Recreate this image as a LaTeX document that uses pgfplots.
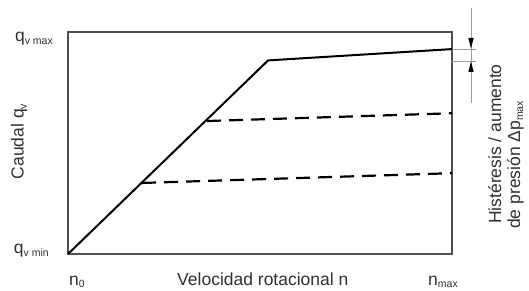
\documentclass[border=0pt]{standalone}
\usepackage{pgfplots}
\pgfplotsset{compat=1.18}
\usepackage{fontspec}
\setmainfont{Liberation Sans}
\definecolor{txt}{HTML}{303030}
\definecolor{boxc}{HTML}{505050}
\definecolor{thinc}{HTML}{9A9A9A}
\newcommand{\lbl}{\fontsize{17.5}{21}\selectfont}
\newcommand{\sub}[2][-3pt]{\raisebox{#1}{\fontsize{10.5}{12}\selectfont #2}}
\begin{document}
\begin{tikzpicture}[x=1pt,y=1pt]
\useasboundingbox (0,0) rectangle (529,291);
\begin{axis}[at={(68pt,37pt)}, anchor=south west, scale only axis,
  width=384pt, height=222pt, xmin=0, xmax=100, ymin=0, ymax=100,
  axis line style={boxc, line width=1.4pt}, ticks=none, clip=false]
\addplot[black, line width=2pt] coordinates {(0,0) (52.1,87.2) (100,92.3)};
\addplot[black, line width=2.2pt, dash pattern=on 14pt off 8pt] coordinates {(36.2,59.9) (100,63.4)};
\addplot[black, line width=2.2pt, dash pattern=on 14pt off 8pt] coordinates {(19.3,32.0) (100,36.4)};
\end{axis}
% annotation
\draw[thinc, line width=0.7pt] (452,242) -- (476,242);
\draw[thinc, line width=0.7pt] (452,230) -- (476,230);
\draw[thinc, line width=0.8pt] (471,283) -- (471,188);
\fill[black] (471,242.5) -- (468.3,253) -- (473.7,253) -- cycle;
\fill[black] (471,229.5) -- (468.3,219) -- (473.7,219) -- cycle;
% labels
\node[anchor=base east, text=txt, inner sep=0pt] at (53,249.5) {\lbl q\sub{v max}};
\node[anchor=base east, text=txt, inner sep=0pt] at (49,37) {\lbl q\sub{v min}};
\node[rotate=90, anchor=base, text=txt, inner sep=0pt] at (23.5,149.5) {\lbl Caudal q\sub{v}};
\node[anchor=base west, text=txt, inner sep=0pt] at (69,5.5) {\lbl n\sub[-2.5pt]{0}};
\node[anchor=base west, text=txt, inner sep=0pt] at (177,5) {\lbl Velocidad rotacional n};
\node[anchor=base west, text=txt, inner sep=0pt] at (428,5.5) {\lbl n\sub[-2.5pt]{max}};
\node[rotate=90, anchor=base west, text=txt, inner sep=0pt] at (501,67) {\lbl Histéresis / aumento};
\node[rotate=90, anchor=base west, text=txt, inner sep=0pt] at (520,62) {\lbl de presión Δp\sub{max}};
\end{tikzpicture}
\end{document}
